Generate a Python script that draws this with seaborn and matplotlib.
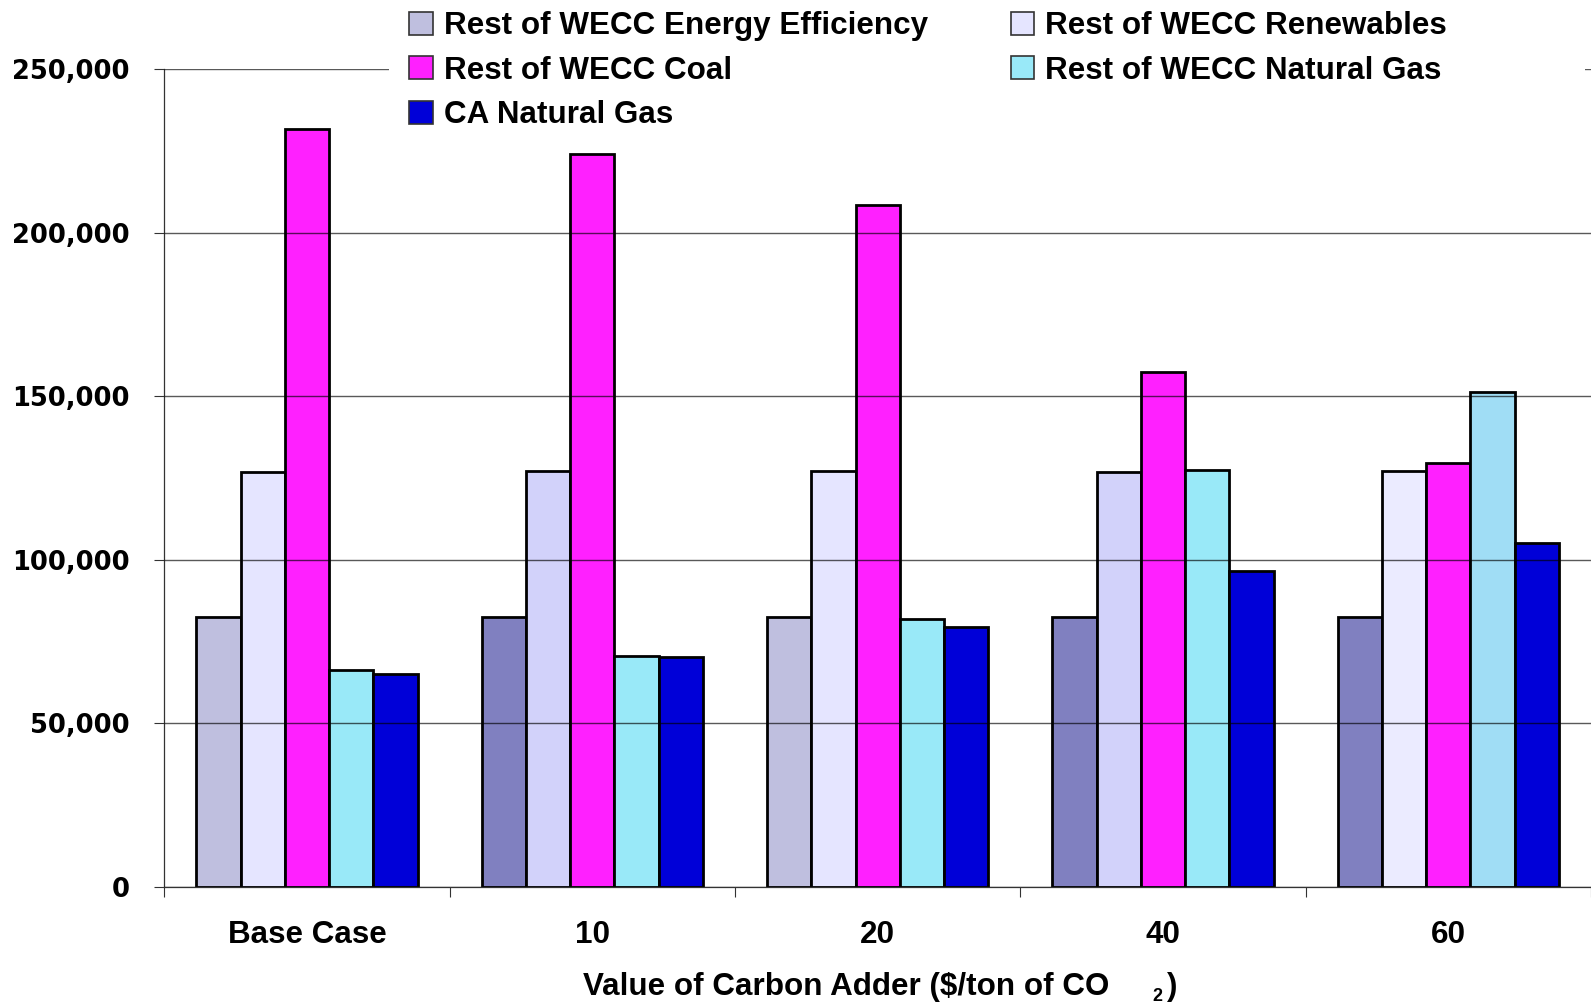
import numpy as np
import pandas as pd
import matplotlib
matplotlib.use("Agg")
import matplotlib.pyplot as plt
import seaborn as sns
from matplotlib.patches import Patch, Rectangle

categories = ["Base Case", "10", "20", "40", "60"]
series = ["Rest of WECC Energy Efficiency", "Rest of WECC Renewables",
          "Rest of WECC Coal", "Rest of WECC Natural Gas", "CA Natural Gas"]
energy_efficiency = [82500, 82500, 82500, 82500, 82500]
renewables = [126900, 127200, 127200, 126900, 127000]
coal = [231700, 223900, 208400, 157300, 129700]
wecc_gas = [66400, 70700, 81900, 127500, 151400]
ca_gas = [65100, 70400, 79400, 96500, 105200]
y_ticks = [0, 50000, 100000, 150000, 200000, 250000]
y_tick_labels = ["0", "50,000", "100,000", "150,000", "200,000", "250,000"]
x_label_main = "Value of Carbon Adder ($/ton of CO"

bar_colors = [
    ["#BFBFDF", "#8080C0", "#BFBFDF", "#8080C0", "#8080C0"],
    ["#E5E5FF", "#D2D2FA", "#E5E5FF", "#D2D2FA", "#EBEBFF"],
    ["#FF20FF"] * 5,
    ["#99E9F8", "#99E9F8", "#99E9F8", "#99E9F8", "#A0DDF5"],
    ["#0000D8"] * 5,
]
legend_colors = ["#BFBFDF", "#E5E5FF", "#FF20FF", "#99E9F8", "#0000D8"]

values = [energy_efficiency, renewables, coal, wecc_gas, ca_gas]
rows = []
for s, vals in zip(series, values):
    for c, v in zip(categories, vals):
        rows.append({"case": c, "series": s, "value": v})
df = pd.DataFrame(rows)

sns.set_style("white")
plt.rcParams["font.family"] = ["Liberation Sans", "DejaVu Sans"]
plt.rcParams["text.color"] = "black"
plt.rcParams["xtick.color"] = "black"
plt.rcParams["ytick.color"] = "black"
plt.rcParams["axes.labelcolor"] = "black"

FS = 22.6

fig = plt.figure(figsize=(15.91, 10.05), dpi=100)
ax = fig.add_axes([0.1033, 0.1174, 0.8967, 0.8139])

sns.barplot(data=df, x="case", y="value", hue="series", order=categories,
            hue_order=series, width=0.775, dodge=True, saturation=1,
            legend=False, ax=ax, errorbar=None)

for i, cont in enumerate(ax.containers):
    for j, bar in enumerate(cont):
        bar.set_facecolor(bar_colors[i][j])
        bar.set_edgecolor("black")
        bar.set_linewidth(2.0)

ax.set_xlim(-0.5, 4.5)
ax.set_ylim(0, 250000)
ax.set_yticks(y_ticks)
ax.set_yticklabels(y_tick_labels, fontfamily="DejaVu Sans", fontweight="bold", fontsize=18.5)
ax.tick_params(axis="y", direction="out", length=7, width=0.8, color="#333333", pad=18, left=True)

ax.set_xticks(np.arange(-0.5, 5, 1.0))
ax.set_xticklabels([])
ax.set_xticks(np.arange(0, 5), minor=True)
ax.set_xticklabels(categories, minor=True, fontweight="bold", fontsize=FS)
ax.tick_params(axis="x", which="major", direction="out", length=7, width=0.8, color="#333333", bottom=True)
ax.tick_params(axis="x", which="minor", length=0, pad=23.5)

ax.set_axisbelow(False)
ax.yaxis.grid(True, color="black", alpha=0.65, linewidth=1.0)
ax.xaxis.grid(False)
for side in ["top", "right"]:
    ax.spines[side].set_visible(False)
for side in ["left", "bottom"]:
    ax.spines[side].set_color("#333333")
    ax.spines[side].set_linewidth(0.9)

ax.set_xlabel("")
ax.set_ylabel("")
fig.text(0.6970, 0.010, x_label_main, ha="right", va="baseline", fontsize=FS, fontweight="bold")
fig.text(0.7240, 0.004, "2", ha="left", va="baseline", fontsize=13, fontweight="bold")
fig.text(0.7335, 0.010, ")", ha="left", va="baseline", fontsize=FS, fontweight="bold")

# white backdrop behind legend (covers the top gridline like the reference)
fig.add_artist(Rectangle((0.2445, 0.871), 0.7515, 0.129, transform=fig.transFigure,
                         facecolor="white", edgecolor="none", zorder=3))

handles = [Patch(facecolor=c, edgecolor="#333333", linewidth=1.2) for c in legend_colors]
order = [0, 2, 4, 1, 3]
leg = fig.legend([handles[k] for k in order], [series[k] for k in order],
                 ncol=2, loc="upper left", bbox_to_anchor=(0.2514, 0.998),
                 prop={"weight": "bold", "size": FS},
                 frameon=False, borderpad=0.3, labelspacing=0.455,
                 handlelength=0.75, handleheight=0.75, handletextpad=0.36,
                 columnspacing=2.62, borderaxespad=0)
leg.set_zorder(5)

fig.savefig("out.png", dpi=100)
